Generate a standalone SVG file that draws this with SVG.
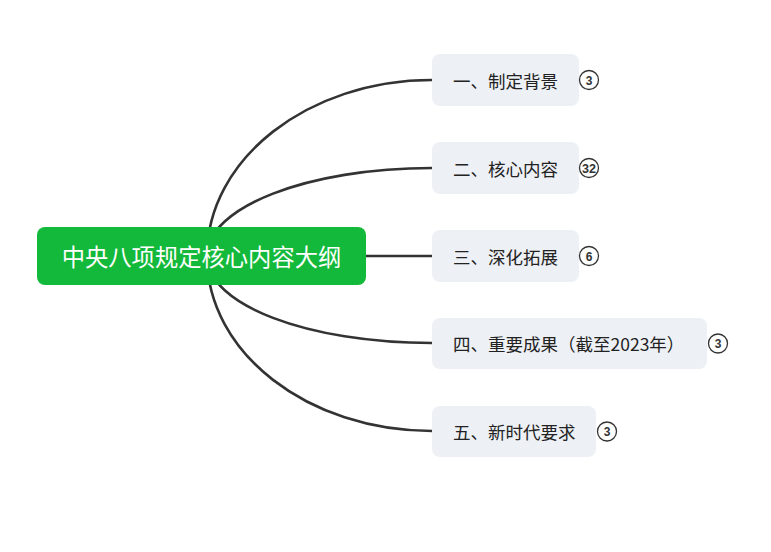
<svg xmlns="http://www.w3.org/2000/svg" width="771" height="552" viewBox="0 0 771 552">
  <style>
    .conn { fill: none; stroke: #333333; stroke-width: 2.6; stroke-linecap: round; }
    .branch rect { fill: #EDF0F4; }
    .branch text { font-family: "Noto Sans CJK SC", "Microsoft YaHei", sans-serif; font-size: 17.5px; fill: #222222; dominant-baseline: central; }
    .badge circle { fill: #ffffff; stroke: #333333; stroke-width: 1.3; }
    .badge text { font-family: "Liberation Sans", Arial, sans-serif; font-size: 12px; font-weight: bold; fill: #333333; text-anchor: middle; dominant-baseline: central; }
    .root rect { fill: #13B93A; }
    .root text { font-family: "Noto Sans CJK SC", "Microsoft YaHei", sans-serif; font-size: 23.3px; fill: #ffffff; text-anchor: middle; dominant-baseline: central; }
  </style>
  <rect width="771" height="552" fill="#ffffff"/>
  <g id="connectors">
    <path class="conn" d="M207,256 C207,159 308,80 432,80"/>
    <path class="conn" d="M207,256 C207,207 308,168 432,168"/>
    <path class="conn" d="M366,256 L432,256"/>
    <path class="conn" d="M207,256 C207,305 308,343 432,343"/>
    <path class="conn" d="M207,256 C207,353 308,431 432,431"/>
  </g>
  <g id="root" class="root">
    <rect x="37" y="227" width="329" height="58" rx="8"/>
    <text x="201.5" y="256">中央八项规定核心内容大纲</text>
  </g>
  <g id="node1" class="branch">
    <rect x="432" y="54" width="147" height="52" rx="8"/>
    <text x="453" y="80">一、制定背景</text>
  </g>
  <g id="badge1" class="badge">
    <circle cx="589" cy="80" r="9.5"/>
    <text x="589" y="80.5">3</text>
  </g>
  <g id="node2" class="branch">
    <rect x="432" y="142" width="147" height="52" rx="8"/>
    <text x="453" y="168">二、核心内容</text>
  </g>
  <g id="badge2" class="badge">
    <circle cx="589" cy="168" r="9.5"/>
    <text x="589" y="168.5" textLength="14" lengthAdjust="spacingAndGlyphs">32</text>
  </g>
  <g id="node3" class="branch">
    <rect x="432" y="230" width="147" height="52" rx="8"/>
    <text x="453" y="256">三、深化拓展</text>
  </g>
  <g id="badge3" class="badge">
    <circle cx="589" cy="256" r="9.5"/>
    <text x="589" y="256.5">6</text>
  </g>
  <g id="node4" class="branch">
    <rect x="432" y="318" width="275" height="51" rx="8"/>
    <text x="453" y="343.5">四、重要成果（截至2023年）</text>
  </g>
  <g id="badge4" class="badge">
    <circle cx="718" cy="343.5" r="9.5"/>
    <text x="718" y="344">3</text>
  </g>
  <g id="node5" class="branch">
    <rect x="432" y="406" width="164" height="51" rx="8"/>
    <text x="453" y="431.5">五、新时代要求</text>
  </g>
  <g id="badge5" class="badge">
    <circle cx="607" cy="431.5" r="9.5"/>
    <text x="607" y="432">3</text>
  </g>
</svg>
